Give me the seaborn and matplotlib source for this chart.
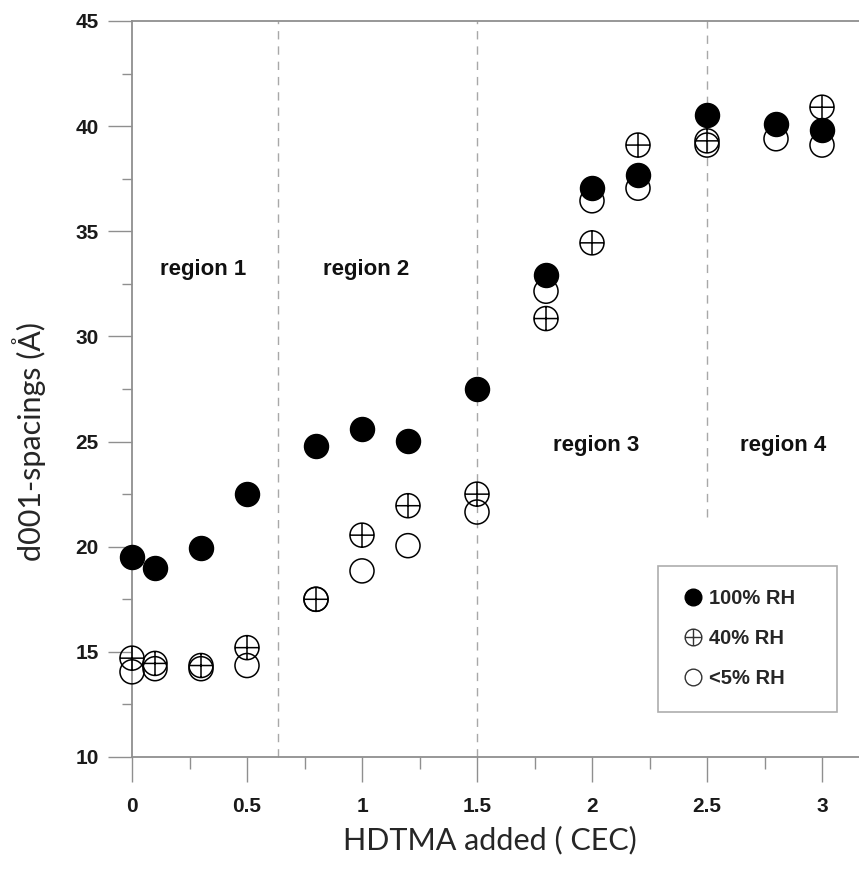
import numpy as np
import pandas as pd
import seaborn as sns
import matplotlib
matplotlib.use("Agg")
import matplotlib.pyplot as plt
from matplotlib.path import Path
from matplotlib.lines import Line2D
from matplotlib.ticker import MultipleLocator, FixedLocator

# ---- data ----
hdtma = [0.0, 0.1, 0.3, 0.5, 0.8, 1.0, 1.2, 1.5, 1.8, 2.0, 2.2, 2.5, 2.8, 3.0]
d_rh100 = [19.5, 19.0, 19.95, 22.5, 24.8, 25.6, 25.05, 27.5, 32.9, 37.05, 37.7, 40.55, 40.1, 39.8]
d_rh40 = [14.7, 14.45, 14.35, 15.2, 17.5, 20.55, 21.95, 22.5, 30.85, 34.45, 39.1, 39.3, np.nan, 40.9]
d_rh5 = [14.05, 14.2, 14.2, 14.35, 17.5, 18.85, 20.05, 21.65, 32.15, 36.45, 37.05, 39.1, 39.4, 39.1]
series_labels = ["100% RH", "40% RH", "<5% RH"]
region_labels = ["region 1", "region 2", "region 3", "region 4"]
region_x = [0.31, 1.02, 2.02, 2.83]
region_y = [33.2, 33.2, 24.8, 24.8]
boundaries = [0.635, 1.5, 2.5]
boundary_bottom = [10, 10, 21.4]
x_ticks = [0, 0.5, 1, 1.5, 2, 2.5, 3]
x_ticklabels = ["0", "0.5", "1", "1.5", "2", "2.5", "3"]
y_ticks = [10, 15, 20, 25, 30, 35, 40, 45]

df = pd.DataFrame({"x": hdtma, "rh100": d_rh100, "rh40": d_rh40, "rh5": d_rh5})

sns.set_style("white")
plt.rcParams["font.family"] = ["Liberation Sans", "DejaVu Sans"]

fig = plt.figure(figsize=(8.59, 8.73), dpi=100)
ax = fig.add_axes([132 / 859, 1 - 757 / 873, 1 - 132 / 859, (757 - 21) / 873])

# crossed-circle marker
circ = Path.unit_circle()
cross = Path([(-1, 0), (1, 0), (0, -1), (0, 1)],
             [Path.MOVETO, Path.LINETO, Path.MOVETO, Path.LINETO])
crossed = Path.make_compound_path(circ, cross)

gray = "#8f8f8f"

# region boundaries
for bx, bb in zip(boundaries, boundary_bottom):
    ax.plot([bx, bx], [bb, 45], ls=(0, (6, 5)), color="#a8a8a8", lw=1.0, zorder=1,
            clip_on=False)

S = 300
sns.scatterplot(data=df, x="x", y="rh5", marker="o", s=S, facecolors="none",
                edgecolor="black", linewidth=1.1, ax=ax, clip_on=False, zorder=3)
sns.scatterplot(data=df, x="x", y="rh40", marker=crossed, s=S, facecolors="none",
                edgecolor="black", linewidth=1.1, ax=ax, clip_on=False, zorder=4)
sns.scatterplot(data=df, x="x", y="rh100", marker="o", s=S, color="black",
                edgecolor="black", linewidth=1.0, ax=ax, clip_on=False, zorder=5)

for lab, rx, ry in zip(region_labels, region_x, region_y):
    ax.text(rx, ry, lab, ha="center", va="center", fontsize=16, fontweight="bold",
            color="#111111")

ax.set_xlim(0, (859 - 132) / 230)
ax.set_ylim(10, 45)
ax.xaxis.set_major_locator(FixedLocator(x_ticks))
ax.set_xticklabels(x_ticklabels)
ax.xaxis.set_minor_locator(MultipleLocator(0.25))
ax.yaxis.set_major_locator(FixedLocator(y_ticks))
ax.yaxis.set_minor_locator(MultipleLocator(2.5))

for side in ["left", "bottom", "top"]:
    ax.spines[side].set_color(gray)
    ax.spines[side].set_linewidth(1.3)
ax.spines["right"].set_visible(False)

ax.tick_params(axis="y", which="major", direction="out", length=17, width=1, color=gray,
               pad=7, labelsize=15, left=True)
ax.tick_params(axis="y", which="minor", direction="out", length=7, width=1, color=gray, left=True)
ax.tick_params(axis="x", which="major", direction="out", length=18, width=1, color=gray,
               pad=11, labelsize=15, bottom=True)
ax.tick_params(axis="x", which="minor", direction="out", length=8.5, width=1, color=gray, bottom=True)
for t in ax.get_xticklabels() + ax.get_yticklabels():
    t.set_fontweight("bold")
    t.set_color("#1a1a1a")

ax.set_xlabel("HDTMA added ( CEC)", fontsize=22, family=["Lato", "DejaVu Sans"], va="center")
ax.set_ylabel("d001-spacings (Å)", fontsize=22, family=["Lato", "DejaVu Sans"], va="center")
ax.xaxis.set_label_coords(0.4924, -0.1128)
ax.yaxis.set_label_coords(-0.1417, 0.4293)

# legend
handles = [
    Line2D([], [], ls="none", marker="o", ms=12, mfc="black", mec="black"),
    Line2D([], [], ls="none", marker=crossed, ms=12, mfc="none", mec="#333333", mew=1.0),
    Line2D([], [], ls="none", marker="o", ms=12, mfc="none", mec="#333333", mew=1.0),
]
leg = ax.legend(handles, series_labels, loc="upper left",
                bbox_to_anchor=(658 / 859, 1 - 708 / 873, 179 / 859, 142 / 873),
                bbox_transform=fig.transFigure, mode="expand",
                prop={"weight": "bold", "size": 14.5}, frameon=True, fancybox=False,
                borderpad=1.15, labelspacing=1.05, handletextpad=0.2, handlelength=1.2,
                borderaxespad=0)
leg.get_frame().set_edgecolor("#999999")
leg.get_frame().set_linewidth(1.2)

fig.savefig("out.png", dpi=100)
